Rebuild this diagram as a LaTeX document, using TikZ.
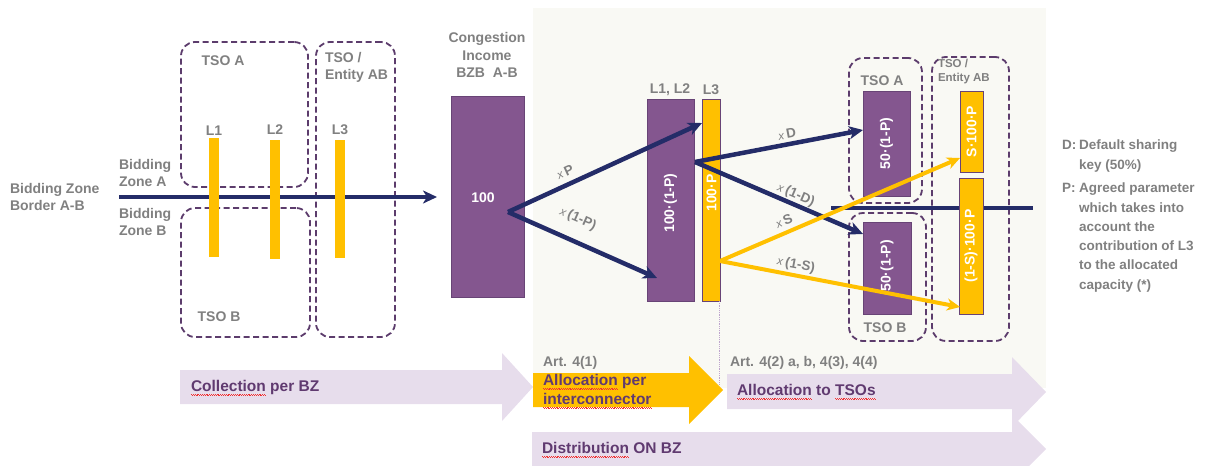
\documentclass[tikz,border=0pt]{standalone}
\usepackage{fontspec}
\setmainfont{Liberation Sans}
\usetikzlibrary{arrows.meta,calc}
\definecolor{navy}{RGB}{36,44,104}
\definecolor{pfill}{RGB}{132,86,143}
\definecolor{pline}{RGB}{104,68,118}
\definecolor{dline}{RGB}{92,60,108}
\definecolor{ylw}{RGB}{255,192,0}
\definecolor{gtext}{RGB}{128,128,128}
\definecolor{ptext}{RGB}{96,58,112}
\definecolor{beige}{RGB}{249,249,244}
\definecolor{lav}{RGB}{231,221,236}
\definecolor{sqred}{RGB}{240,50,50}
\definecolor{dotc}{RGB}{190,165,205}
\newsavebox\sqbox
\newcommand\sqw[1]{\sbox\sqbox{#1}\rlap{\textcolor{sqred}{\hbox to \wd\sqbox{\xleaders\hbox{\rule[-3.4pt]{0.9pt}{0.7pt}\rule[-4pt]{0.9pt}{0.7pt}}\hfill}}}\usebox\sqbox}
\newcommand\xx{{\mdseries\itshape\fontsize{11.5}{11}\selectfont x}\kern2.5pt}
\begin{document}
\begin{tikzpicture}[x=1pt,y=-1pt,
  every node/.style={inner sep=0pt,outer sep=0pt},
  gtxt/.style={text=gtext,font=\fontsize{14}{17}\selectfont\bfseries,align=left},
  gsmall/.style={text=gtext,font=\fontsize{12}{14}\selectfont\bfseries,align=left},
  legend/.style={text=gtext,font=\fontsize{13.5}{19.3}\selectfont\bfseries,align=left},
  ptxt/.style={text=ptext,font=\fontsize{15.5}{19}\selectfont\bfseries,align=left},
  wtxt/.style={text=white,font=\fontsize{14}{14}\selectfont\bfseries},
  alab/.style={text=gtext,font=\fontsize{13.5}{14}\selectfont\bfseries},
  prect/.style={draw=pline,line width=0.8pt,fill=pfill},
  yrect/.style={draw=pline,line width=0.8pt,fill=ylw},
  ybar/.style={fill=ylw},
  dbox/.style={draw=dline,line width=1.8pt,dash pattern=on 6pt off 3.5pt,rounded corners=14pt},
  navarr/.style={draw=navy,line width=4.5pt,-{Stealth[length=14pt,width=13pt,inset=4pt]}},
  ylwarr/.style={draw=ylw,line width=4pt,-{Stealth[length=13pt,width=12pt,inset=4pt]}},
  dotline/.style={draw=dotc,line width=0.8pt,densely dotted}]
\useasboundingbox (0,0) rectangle (1219,466);
% background panel
\fill[beige] (533,8) rectangle (1046,388);
% bottom arrows
\fill[lav] (180,370) -- (502,370) -- (502,353) -- (533,387) -- (502,421) -- (502,404) -- (180,404) -- cycle;
\fill[ylw] (533,373) -- (689,373) -- (689,356) -- (723,390) -- (689,424) -- (689,407) -- (533,407) -- cycle;
\fill[lav] (727,374) -- (1012,374) -- (1012,357) -- (1046,392) -- (1012,427) -- (1012,409) -- (727,409) -- cycle;
\fill[lav] (532,432) -- (1012,432) -- (1012,415) -- (1046,449) -- (1012,483) -- (1012,466) -- (532,466) -- cycle;
\node[ptxt,anchor=west] (tcol) at (191,388) {\sqw{Collection} per BZ};
\node[gtxt,anchor=west] (art1) at (543,363) {Art. 4(1)};
\node[ptxt,anchor=west] (talloc) at (543,391.5) {\sqw{Allocation} per\\\sqw{interconnector}};
\node[gtxt,anchor=west] (art2) at (730,363) {Art. 4(2) a, b, 4(3), 4(4)};
\node[ptxt,anchor=west] (ttso) at (737,392) {\sqw{Allocation} to \sqw{TSOs}};
\node[ptxt,anchor=west] (tdist) at (542,450) {\sqw{Distribution} ON BZ};
% left part
\node[dbox,minimum width=127pt,minimum height=145pt] (dA) at (244.5,114.5) {};
\node[dbox,minimum width=129pt,minimum height=129pt] (dB) at (245.5,272.5) {};
\node[dbox,minimum width=79pt,minimum height=295pt] (dE) at (355.5,189.5) {};
\node[gtxt] (lA) at (223,61) {TSO A};
\node[gtxt] (lB) at (219,317) {TSO B};
\node[gtxt,anchor=west] (lE) at (325,67) {TSO /\\Entity AB};
\node[gtxt,anchor=west] (bzb) at (10,197) {Bidding Zone\\Border A-B};
\node[gtxt,anchor=west] (bza) at (119,173) {Bidding\\Zone A};
\node[gtxt,anchor=west] (bzbb) at (119,222) {Bidding\\Zone B};
\coordinate (mstart) at (119,197);
\coordinate (mend) at (437,197);
\draw[navarr] (mstart) -- (mend);
\node[ybar,minimum width=10pt,minimum height=119pt] (b1) at (214,197.5) {};
\node[ybar,minimum width=10pt,minimum height=119pt] (b2) at (275,199.5) {};
\node[ybar,minimum width=10pt,minimum height=118pt] (b3) at (340,199) {};
\node[gtxt] (n1) at (214,131) {L1};
\node[gtxt] (n2) at (275,130) {L2};
\node[gtxt] (n3) at (340,130) {L3};
% congestion income
\node[gtxt,align=center,font=\fontsize{14}{17.5}\selectfont\bfseries] (cit) at (487,55) {Congestion\\Income\\BZB\ \ A-B};
\node[prect,minimum width=73pt,minimum height=201pt] (ci) at (487.5,196.5) {};
\node[wtxt] (ci100) at (483,198) {100};
% L1 L2 / L3 rects
\node[prect,minimum width=47pt,minimum height=202pt] (l12) at (670.5,200) {};
\node[yrect,minimum width=18pt,minimum height=202pt] (l3r) at (711,200) {};
\node[wtxt,rotate=90] (t12) at (670.5,203) {100·(1-P)};
\node[wtxt,rotate=90] (t3) at (711.5,193) {100·P};
\node[gtxt] (h12) at (670,90) {L1, L2};
\node[gtxt] (h3) at (711,90) {L3};
\coordinate (dotend) at (719,385);
\coordinate (dotstart) at (719,301);
\draw[dotline] (dotstart) -- (dotend);
% right boxes
\node[dbox,minimum width=73pt,minimum height=145pt] (rA) at (885.5,130.5) {};
\node[dbox,minimum width=77pt,minimum height=128pt] (rB) at (887.5,277) {};
\node[dbox,minimum width=77pt,minimum height=284pt] (rE) at (970.5,199) {};
\node[gtxt] (rlA) at (882,81) {TSO A};
\node[gtxt] (rlB) at (885,328) {TSO B};
\node[gsmall,anchor=west,font=\fontsize{11.5}{14}\selectfont\bfseries] (rlE) at (938,72) {TSO /\\Entity AB};
\coordinate (hl1) at (831,208);
\coordinate (hl2) at (1033,208);
\draw[navy,line width=4.5pt] (hl1) -- (hl2);
\node[prect,minimum width=47pt,minimum height=105pt] (ta) at (886.5,143.5) {};
\node[prect,minimum width=48pt,minimum height=92pt] (tb) at (887,268) {};
\node[yrect,minimum width=23pt,minimum height=81pt] (sa) at (971.5,131.5) {};
\node[yrect,minimum width=24pt,minimum height=136pt] (sb) at (971,246) {};
\node[wtxt,rotate=90] (tta) at (886.5,143.5) {50·(1-P)};
\node[wtxt,rotate=90] (ttb) at (887,266) {50·(1-P)};
\node[wtxt,rotate=90] (tsa) at (971.5,131.5) {S·100·P};
\node[wtxt,rotate=90] (tsb) at (971,246) {(1-S)·100·P};
% arrows
\coordinate (p0) at (508,212);
\coordinate (pP) at (702,123);
\coordinate (p1P) at (657,278);
\draw[navarr] (p0) -- (pP);
\draw[navarr] (p0) -- (p1P);
\node[alab,rotate=24.6] (lxP) at (565,172) {\xx P};
\node[alab,rotate=-23.9] (lx1P) at (578,219) {\xx (1-P)};
\coordinate (q0) at (695,162);
\coordinate (qD) at (863,130);
\coordinate (q1D) at (863,234);
\draw[navarr] (q0) -- (qD);
\draw[navarr] (q0) -- (q1D);
\node[alab,rotate=10.8] (lxD) at (787,134) {\xx D};
\node[alab,rotate=-23.2] (lx1D) at (796,195) {\xx (1-D)};
\coordinate (s0) at (720,261);
\coordinate (sS) at (960,158);
\coordinate (s1S) at (960,307);
\draw[ylwarr] (s0) -- (sS);
\draw[ylwarr] (s0) -- (s1S);
\node[alab,rotate=23.2] (lxS) at (784,221) {\xx S};
\node[alab,rotate=-10.9] (lx1S) at (796,265) {\xx (1-S)};
% legend
\node[legend,anchor=north west] (lgD1) at (1062,140) {D:};
\node[legend,anchor=north west] (lgD2) at (1079,140) {Default sharing\\key (50\%)};
\node[legend,anchor=north west] (lgP1) at (1062,183) {P:};
\node[legend,anchor=north west] (lgP2) at (1079,183) {Agreed parameter\\which takes into\\account the\\contribution of L3\\to the allocated\\capacity (*)};
\end{tikzpicture}
\end{document}
